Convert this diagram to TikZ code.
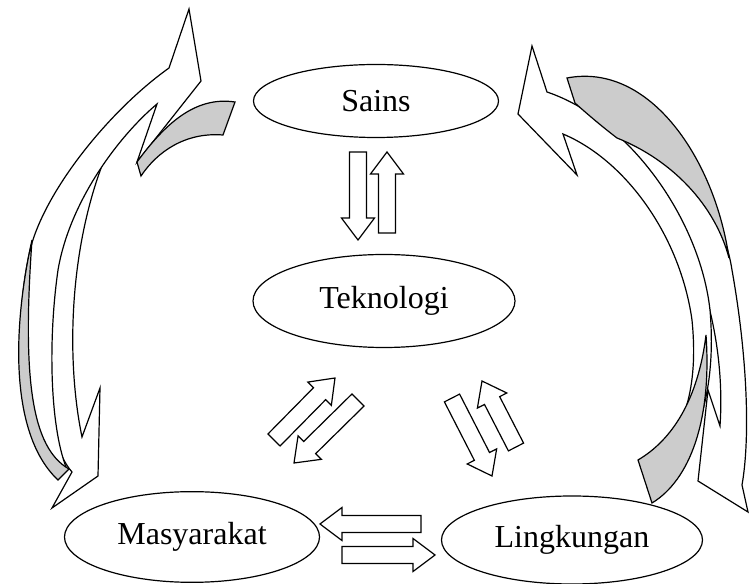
\documentclass[tikz,border=0pt]{standalone}
\usepackage{fontspec}
\setmainfont{Liberation Serif}
\usetikzlibrary{shapes.geometric, calc}

\definecolor{backside}{RGB}{204,204,204}

% hollow block arrow from #1 to #2
\newcommand{\fatarrow}[2]{%
  \coordinate (hb) at ($(#2)!16.5pt!(#1)$);
  \draw[line width=0.9pt, fill=white]
    ($(#1)!6.4pt!90:(#2)$) -- ($(hb)!6.4pt!90:(#2)$) -- ($(hb)!12.4pt!90:(#2)$)
    -- (#2) -- ($(hb)!12.4pt!-90:(#2)$) -- ($(hb)!6.4pt!-90:(#2)$)
    -- ($(#1)!6.4pt!-90:(#2)$) -- cycle;
}

\begin{document}
\begin{tikzpicture}[x=0.75pt, y=-0.75pt,
    topic/.style={ellipse, draw, line width=0.9pt, fill=white, inner sep=0pt,
                  font=\fontsize{24}{28}\selectfont},
    ribbon/.style={draw, line width=0.9pt, fill=white, line join=miter},
    ribbonback/.style={draw, line width=0.9pt, fill=backside}]
  \useasboundingbox (0,0) rectangle (751,584);

  % left loop: Sains <-> Masyarakat
  \draw[ribbon] (72,472) -- (52,508) -- (98,476) -- (100,388) -- (82,437)
    .. controls (64,350) and (70,220) .. (120,125) -- (100,140)
    .. controls (58,195) and (42,280) .. (45,350)
    .. controls (47,420) and (57,455) .. (72,472) -- cycle;
  \draw[ribbon] (57,474) .. controls (20,425) and (12,330) .. (30,250)
    .. controls (45,190) and (110,110) .. (169,68)
    -- (189,9) -- (201,81) -- (137,162) -- (157,104)
    .. controls (120,135) and (70,200) .. (58,270)
    .. controls (48,340) and (50,425) .. (66,467) -- cycle;
  \draw[ribbonback] (137,162) .. controls (165,124) and (195,96) .. (235,102)
    -- (223,135) .. controls (185,132) and (157,152) .. (141,176) -- cycle;
  \draw[ribbonback] (32,240) .. controls (12,330) and (10,435) .. (58,480)
    -- (69,469) .. controls (32,448) and (22,380) .. (32,240) -- cycle;

  % right loop: Sains <-> Lingkungan
  \draw[ribbon] (742,485) -- (748,512) -- (698,481) -- (708,390) -- (720,426)
    .. controls (726,340) and (700,230) .. (630,165) -- (612,135)
    .. controls (675,158) and (722,205) .. (732,270)
    .. controls (748,360) and (750,440) .. (742,485) -- cycle;
  \draw[ribbon] (547,92) -- (532,46) -- (518,114) -- (577,175) -- (563,134)
    .. controls (625,160) and (680,235) .. (692,320)
    .. controls (698,380) and (688,430) .. (652,462) -- (668,476)
    .. controls (702,440) and (716,380) .. (710,310)
    .. controls (700,220) and (630,120) .. (547,92) -- cycle;
  \draw[ribbonback] (567,78) .. controls (650,62) and (715,160) .. (729,258)
    .. controls (715,205) and (672,160) .. (617,138)
    .. controls (600,125) and (585,112) .. (575,103) -- cycle;
  \draw[ribbonback] (706,335) .. controls (712,420) and (690,480) .. (652,503)
    -- (638,460) .. controls (672,440) and (698,400) .. (706,335) -- cycle;

  % topics
  \node[topic, minimum width=183.75pt, minimum height=54.75pt] (sains) at (376,101) {Sains};
  \node[topic, minimum width=196.5pt, minimum height=69.75pt] (tekno) at (384,301) {Teknologi};
  \node[topic, minimum width=191.25pt, minimum height=68pt] (masy) at (192,537) {Masyarakat};
  \node[topic, minimum width=195.75pt, minimum height=66pt] (ling) at (572,540) {Lingkungan};

  % Sains <-> Teknologi
  \coordinate (st-a) at (358,152);
  \coordinate (st-b) at (358,240);
  \coordinate (ts-a) at (387,233);
  \coordinate (ts-b) at (387,152);
  \fatarrow{st-a}{st-b}
  \fatarrow{ts-a}{ts-b}

  % Teknologi <-> Masyarakat
  \coordinate (mt-a) at (274,440);
  \coordinate (mt-b) at (335,378);
  \coordinate (tm-a) at (358,400);
  \coordinate (tm-b) at (294,463);
  \fatarrow{mt-a}{mt-b}
  \fatarrow{tm-a}{tm-b}

  % Teknologi <-> Lingkungan
  \coordinate (tl-a) at (452,398);
  \coordinate (tl-b) at (492,476);
  \coordinate (lt-a) at (516,447);
  \coordinate (lt-b) at (482,381);
  \fatarrow{tl-a}{tl-b}
  \fatarrow{lt-a}{lt-b}

  % Lingkungan <-> Masyarakat
  \coordinate (lm-a) at (421,524);
  \coordinate (lm-b) at (320,524);
  \coordinate (ml-a) at (342,555);
  \coordinate (ml-b) at (435,555);
  \fatarrow{lm-a}{lm-b}
  \fatarrow{ml-a}{ml-b}
\end{tikzpicture}
\end{document}
